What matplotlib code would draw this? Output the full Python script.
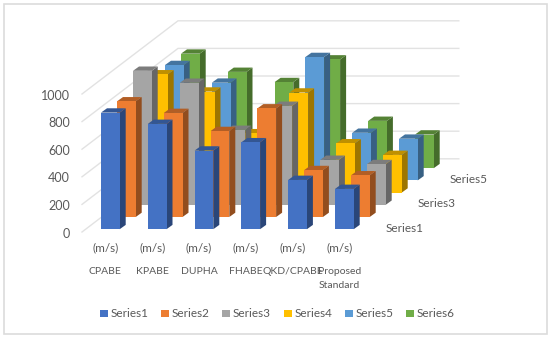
import matplotlib
matplotlib.use('Agg')
import matplotlib.pyplot as plt
from matplotlib.patches import Polygon, Rectangle

plt.rcParams['font.family'] = ['Lato', 'DejaVu Sans']

categories = ['CPABE', 'KPABE', 'DUPHA', 'FHABE', 'QKD/CPABE', 'Proposed\nStandard']
units = ['(m/s)'] * 6
series_names = ['Series1', 'Series2', 'Series3', 'Series4', 'Series5', 'Series6']
depth_labels = ['Series1', 'Series3', 'Series5']
y_ticks = [0, 200, 400, 600, 800, 1000]

series1 = [845, 763, 570, 630, 357, 292]
series2 = [838, 754, 623, 787, 340, 302]
series3 = [971, 884, 543, 717, 326, 295]
series4 = [857, 732, 430, 725, 357, 273]
series5 = [836, 708, 500, 894, 345, 302]
series6 = [830, 698, 624, 788, 343, 244]
all_series = [series1, series2, series3, series4, series5, series6]

front = ['#4472c4', '#ed7d31', '#a5a5a5', '#ffc000', '#5b9bd5', '#70ad47']
top = ['#335693', '#b25e25', '#7c7c7c', '#bf9000', '#44749f', '#548235']
side = ['#2a4679', '#924d1e', '#666666', '#9d7600', '#386083', '#456c2b']

# oblique projection of the 3d chart onto picture pixels
X0, Y0 = 82.0, 232.0
CAT_W, ROW_DX, ROW_DY = 46.8, 16.0, -12.2
PX_PER_UNIT = 0.138
BAR_W, BAR_DX, BAR_DY = 18.7, 6.0, -4.3


def project(cat, row, value):
    x = X0 + cat * CAT_W + row * ROW_DX
    y = Y0 + row * ROW_DY - value * PX_PER_UNIT
    return x, y


fig = plt.figure(figsize=(5.5, 3.39), dpi=100)
ax = fig.add_axes([0, 0, 1, 1])
ax.set_xlim(0, 550)
ax.set_ylim(339, 0)
ax.axis('off')

ax.add_patch(Rectangle((3.5, 4), 543, 330, fc='white', ec='#dcdcdc', lw=1.2))

# walls
for v in y_ticks:
    x1, y1 = project(0, 0, v)
    x2, y2 = project(0, 6, v)
    x3, y3 = project(6, 6, v)
    ax.plot([x1, x2, x3], [y1, y2, y3], color='#e2e2e2', lw=1, zorder=1)
    ax.text(x1 - 12, y1 + 1.5, str(v), ha='right', va='center', fontsize=9, color='#595959')

# bars, back row first
z = 2
for row in range(5, -1, -1):
    for cat, val in enumerate(all_series[row]):
        x, y0 = project(cat, row, 0)
        x += 14.0 + 5.0
        y0 -= 2.8
        y1 = y0 - val * PX_PER_UNIT
        ax.add_patch(Polygon([(x + BAR_W, y0), (x + BAR_W + BAR_DX, y0 + BAR_DY),
                              (x + BAR_W + BAR_DX, y1 + BAR_DY), (x + BAR_W, y1)],
                             fc=side[row], ec='none', zorder=z))
        ax.add_patch(Polygon([(x, y1), (x + BAR_W, y1),
                              (x + BAR_W + BAR_DX, y1 + BAR_DY), (x + BAR_DX, y1 + BAR_DY)],
                             fc=top[row], ec='none', zorder=z))
        ax.add_patch(Rectangle((x, y1), BAR_W, y0 - y1, fc=front[row], ec='none', zorder=z))
        z += 1

# category labels
for cat, (name, unit) in enumerate(zip(categories, units)):
    xc = X0 + (cat + 0.5) * CAT_W
    ax.text(xc, 248, unit, ha='center', va='center', fontsize=8.5, color='#595959')
    ax.text(xc, 267, name, ha='center', va='top', fontsize=7.5, color='#595959',
            linespacing=1.7)

# depth labels
for row, name in zip([0, 2, 4], depth_labels):
    x, y = project(6, row, 0)
    ax.text(x + 23, y - 4, name, ha='left', va='center', fontsize=8.5, color='#595959')

# legend
leg_x = [100, 161, 222, 284, 345, 406]
for x, name, col in zip(leg_x, series_names, front):
    ax.add_patch(Rectangle((x, 310), 7.5, 7, fc=col, ec='none'))
    ax.text(x + 10.5, 313.5, name, ha='left', va='center', fontsize=8.5, color='#595959')

fig.savefig('out.png', dpi=100)
